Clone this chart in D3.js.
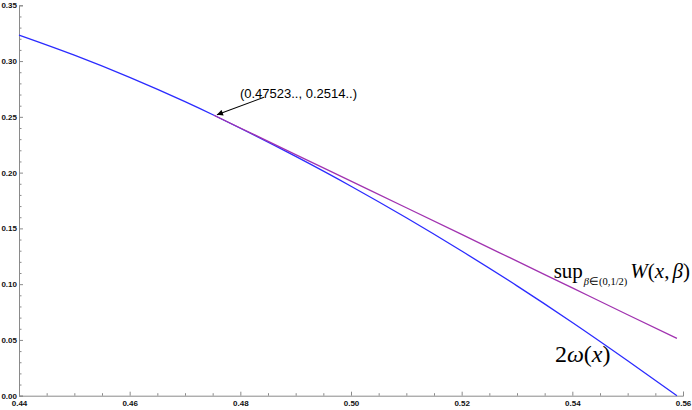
<!DOCTYPE html>
<html><head><meta charset="utf-8">
<script src="https://cdn.jsdelivr.net/npm/d3@7/dist/d3.min.js"></script>
<style>
html,body{margin:0;padding:0;background:#fff;}
svg{display:block;}
.tick text{font-family:"Liberation Sans",Arial,sans-serif;font-size:8px;font-weight:bold;fill:#111;}
</style></head>
<body>
<svg id="c" width="692" height="410"></svg>
<script>
// ---- data ----
const xTicks = [0.44, 0.46, 0.48, 0.50, 0.52, 0.54, 0.56];
const yTicks = [0.00, 0.05, 0.10, 0.15, 0.20, 0.25, 0.30, 0.35];
const omegaX = [0.44, 0.45, 0.46, 0.47, 0.47523, 0.48, 0.49, 0.50, 0.51, 0.52, 0.53, 0.54, 0.55, 0.5589];
const omegaY = [0.3233, 0.3053, 0.2854, 0.2636, 0.2514, 0.2398, 0.2145, 0.1878, 0.1595, 0.1297, 0.0985, 0.0657, 0.0314, 0.0000];
const supX = [0.47523, 0.48, 0.49, 0.50, 0.51, 0.52, 0.53, 0.54, 0.55, 0.5589];
const supY = [0.2514, 0.2400, 0.2161, 0.1923, 0.1685, 0.1446, 0.1206, 0.0966, 0.0726, 0.0514];
const tangentPoint = [0.47523, 0.2514];
const tangentLabel = "(0.47523.., 0.2514..)";

// ---- chart ----
const svg = d3.select("#c");
const x = d3.scaleLinear().domain([0.44, 0.56]).range([19, 683]);
const y = d3.scaleLinear().domain([0, 0.35]).range([395.7, 5.3]);
const axisColor = "#8a8a8a";

const minorX = d3.range(0.44, 0.5601, 0.005).filter(v => !xTicks.some(t => Math.abs(t - v) < 1e-9));
const minorY = d3.range(0, 0.3501, 0.01).filter(v => !yTicks.some(t => Math.abs(t - v) < 1e-9));

const gx = svg.append("g").attr("transform", `translate(0,${y(0)})`)
  .call(d3.axisBottom(x).tickValues(xTicks).tickSize(-4).tickPadding(5).tickFormat(d3.format(".2f")));
const gxm = svg.append("g").attr("transform", `translate(0,${y(0)})`)
  .call(d3.axisBottom(x).tickValues(minorX).tickSize(-2.5).tickFormat(""));
const gy = svg.append("g").attr("transform", `translate(${x(0.44)},0)`)
  .call(d3.axisLeft(y).tickValues(yTicks).tickSize(-4).tickPadding(2).tickFormat(d3.format(".2f")));
const gym = svg.append("g").attr("transform", `translate(${x(0.44)},0)`)
  .call(d3.axisLeft(y).tickValues(minorY).tickSize(-2.5).tickFormat(""));
gxm.select(".domain").remove();
gym.select(".domain").remove();
[gx, gy, gxm, gym].forEach(g => {
  g.selectAll(".domain").attr("stroke", axisColor).attr("stroke-width", 1);
  g.selectAll(".tick line").attr("stroke", axisColor);
});

const line = d3.line().x(d => x(d[0])).y(d => y(d[1])).curve(d3.curveMonotoneX);

svg.append("path").datum(d3.zip(omegaX, omegaY))
  .attr("d", line).attr("fill", "none").attr("stroke", "#2b2bff").attr("stroke-width", 1.3);
svg.append("path").datum(d3.zip(supX, supY))
  .attr("d", line).attr("fill", "none").attr("stroke", "#a133b0").attr("stroke-width", 1.3);

// annotation arrow
svg.append("defs").append("marker").attr("id", "ah")
  .attr("viewBox", "0 0 10 10").attr("refX", 10).attr("refY", 5)
  .attr("markerWidth", 8).attr("markerHeight", 6).attr("orient", "auto")
  .attr("markerUnits", "userSpaceOnUse")
  .append("path").attr("d", "M0,0 L10,5 L0,10 z").attr("fill", "#000");
const tx = x(tangentPoint[0]), ty = y(tangentPoint[1]);
svg.append("line").attr("x1", tx + 50).attr("y1", ty - 18).attr("x2", tx + 3).attr("y2", ty - 0.5)
  .attr("stroke", "#000").attr("stroke-width", 1.1).attr("marker-end", "url(#ah)");
svg.append("text").attr("x", tx + 26).attr("y", ty - 17)
  .attr("font-family", "Liberation Sans, Arial, sans-serif").attr("font-size", 13).attr("fill", "#000")
  .text(tangentLabel);

// curve labels
const serif = "Liberation Serif, Times New Roman, serif";
const supEnd = [supX[supX.length - 1], supY[supY.length - 1]];
const t1 = svg.append("text").attr("x", x(supEnd[0]) + 13).attr("y", y(supEnd[1]) - 60)
  .attr("text-anchor", "end")
  .attr("font-family", serif).attr("font-size", 21).attr("fill", "#000");
t1.append("tspan").text("sup");
t1.append("tspan").attr("font-size", 10.5).attr("dy", 7).attr("dx", 1).attr("font-style", "italic").text("β");
t1.append("tspan").attr("font-size", 10.5).text("∈(0,1/2)");
t1.append("tspan").attr("dy", -7).attr("dx", 3).attr("font-style", "italic").text("W");
t1.append("tspan").text("(");
t1.append("tspan").attr("font-style", "italic").text("x");
t1.append("tspan").text(",");
t1.append("tspan").attr("dx", 3).attr("font-style", "italic").text("β");
t1.append("tspan").text(")");

const omEnd = [omegaX[omegaX.length - 1], omegaY[omegaY.length - 1]];
const t2 = svg.append("text").attr("x", x(omEnd[0]) - 122).attr("y", y(omEnd[1]) - 34)
  .attr("font-family", serif).attr("font-size", 24).attr("fill", "#000");
t2.append("tspan").text("2");
t2.append("tspan").attr("font-style", "italic").text("ω");
t2.append("tspan").text("(");
t2.append("tspan").attr("font-style", "italic").text("x");
t2.append("tspan").text(")");
</script>
</body></html>
